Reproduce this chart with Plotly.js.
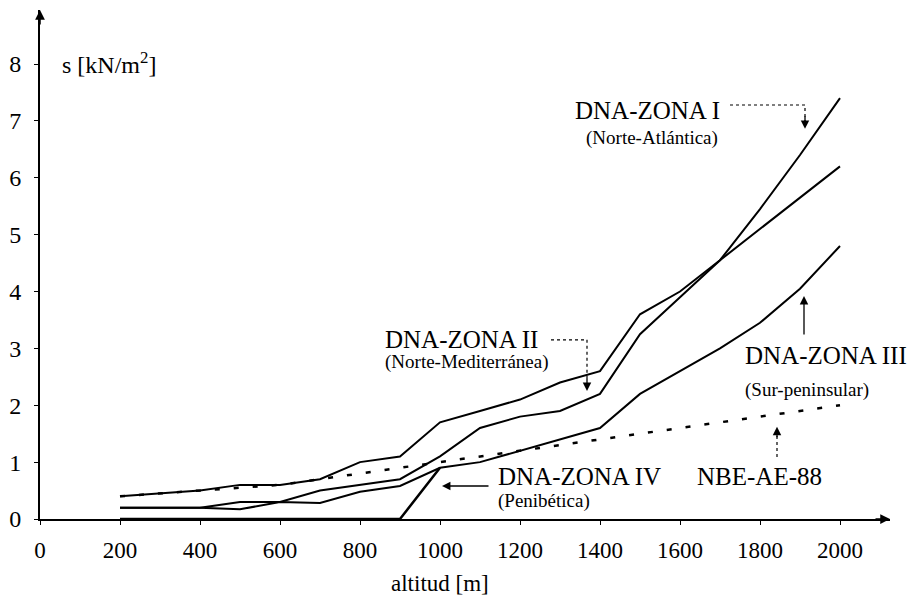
<!DOCTYPE html>
<html>
<head>
<meta charset="utf-8">
<script src="https://cdn.plot.ly/plotly-3.0.1.min.js"></script>
<style>html,body{margin:0;padding:0;background:#fff}#chart{width:912px;height:599px}</style>
</head>
<body>
<div id="chart"></div>
<script>
// --- data ---
const altMain = [200,400,500,600,700,800,900,1000,1100,1200,1300,1400,1500,1600,1700,1800,1900,2000];
const sLineA  = [0.4,0.5,0.6,0.6,0.7,1.0,1.1,1.7,1.9,2.1,2.4,2.6,3.6,4.0,4.55,5.1,5.65,6.2];
const sLineB  = [0.2,0.2,0.3,0.3,0.5,0.6,0.7,1.1,1.6,1.8,1.9,2.2,3.25,3.9,4.55,5.45,6.4,7.4];
const sZona3  = [0.2,0.2,0.17,0.3,0.28,0.48,0.58,0.9,1.0,1.2,1.4,1.6,2.2,2.6,3.0,3.45,4.05,4.8];
const altZona4 = [200,900,1000];
const sZona4   = [0,0,0.9];
const altNBE = [200,400,600,800,1000,1200,1400,1600,1800,2000];
const sNBE   = [0.4,0.5,0.6,0.8,1.0,1.2,1.4,1.6,1.8,2.0];
const xTicks = [0,200,400,600,800,1000,1200,1400,1600,1800,2000];
const yTicks = [0,1,2,3,4,5,6,7,8];

const FONT = "Liberation Serif, Times New Roman, serif";
const ln = {color:'#000', width:2};
const traces = [
  {x:altMain, y:sLineA, mode:'lines', line:ln, cliponaxis:false, name:'A'},
  {x:altMain, y:sLineB, mode:'lines', line:ln, cliponaxis:false, name:'B'},
  {x:altMain, y:sZona3, mode:'lines', line:ln, cliponaxis:false, name:'DNA-ZONA III'},
  {x:altZona4, y:sZona4, mode:'lines', line:{color:'#000', width:2.5}, cliponaxis:false, name:'DNA-ZONA IV'},
  {x:altNBE, y:sNBE, mode:'lines', line:{color:'#000', width:2.5, dash:'5px,14px'}, cliponaxis:false, name:'NBE-AE-88'}
];

function lab(text, x, y, size, xanchor){
  return {text:text, x:x, y:y, xref:'x', yref:'y', showarrow:false, xanchor:xanchor||'left', yanchor:'middle',
          font:{family:FONT, size:size, color:'#000'}};
}
function head(x, y, ax, ay, w){
  return {text:'', x:x, y:y, xref:'x', yref:'y', showarrow:true, ax:ax, ay:ay, arrowhead:2, arrowsize:1.3,
          arrowwidth:w||1.3, arrowcolor:'#000'};
}
const annotations = [
  lab('s [kN/m<sup>2</sup>]', 50, 8.02, 24),
  lab('DNA-ZONA I', 1705, 7.19, 25, 'right'),
  lab('(Norte-Atlántica)', 1700, 6.70, 19, 'right'),
  lab('DNA-ZONA II', 857.5, 3.15, 25),
  lab('(Norte-Mediterránea)', 857.5, 2.76, 19),
  lab('DNA-ZONA III', 1757.5, 2.87, 25),
  lab('(Sur-peninsular)', 1757.5, 2.27, 19),
  lab('DNA-ZONA IV', 1140, 0.74, 25),
  lab('(Penibética)', 1140, 0.32, 19),
  lab('NBE-AE-88', 1637.5, 0.74, 25),
  {text:'altitud [m]', x:1000, y:-0.126, xref:'x', yref:'paper', showarrow:false, xanchor:'center', yanchor:'middle',
   font:{family:FONT, size:23, color:'#000'}},
  // pointers
  head(1912.5, 6.86, 0, -14),
  head(1367.5, 2.25, 0, -14),
  head(1910, 3.92, 0, 40),
  head(1005, 0.58, 48, 0),
  head(1842.5, 1.62, 0, 12),
  // axis arrows
  head(2125, 0, -16, 0, 1.5),
  head(0, 8.95, 0, 16, 1.5)
];
const dot = {color:'#000', width:1.2, dash:'dot'};
const shapes = [
  {type:'path', xref:'x', yref:'y', path:'M1725,7.28 L1912.5,7.28 L1912.5,7.0', line:dot},
  {type:'path', xref:'x', yref:'y', path:'M1277.5,3.15 L1367.5,3.15 L1367.5,2.45', line:dot},
  {type:'line', xref:'x', yref:'y', x0:1842.5, x1:1842.5, y0:1.09, y1:1.5, line:dot}
];

const layout = {
  width:912, height:599,
  margin:{l:40, r:22, t:10, b:80},
  paper_bgcolor:'#fff', plot_bgcolor:'#fff',
  showlegend:false,
  font:{family:FONT, color:'#000'},
  xaxis:{range:[0,2125], tickvals:xTicks, ticktext:xTicks.map(String), showgrid:false, zeroline:false,
         showline:true, linecolor:'#000', linewidth:1.5, ticks:'outside', ticklen:4, tickcolor:'#000',
         tickfont:{family:FONT, size:23, color:'#000'}, ticklabelstandoff:6, fixedrange:true},
  yaxis:{range:[0,8.95], tickvals:yTicks, ticktext:yTicks.map(String), showgrid:false, zeroline:false,
         showline:true, linecolor:'#000', linewidth:2, ticks:'outside', ticklen:4, tickcolor:'#000',
         tickfont:{family:FONT, size:24, color:'#000'}, ticklabelstandoff:8, fixedrange:true},
  annotations:annotations,
  shapes:shapes
};
Plotly.newPlot('chart', traces, layout, {displayModeBar:false, staticPlot:true});
</script>
</body>
</html>
